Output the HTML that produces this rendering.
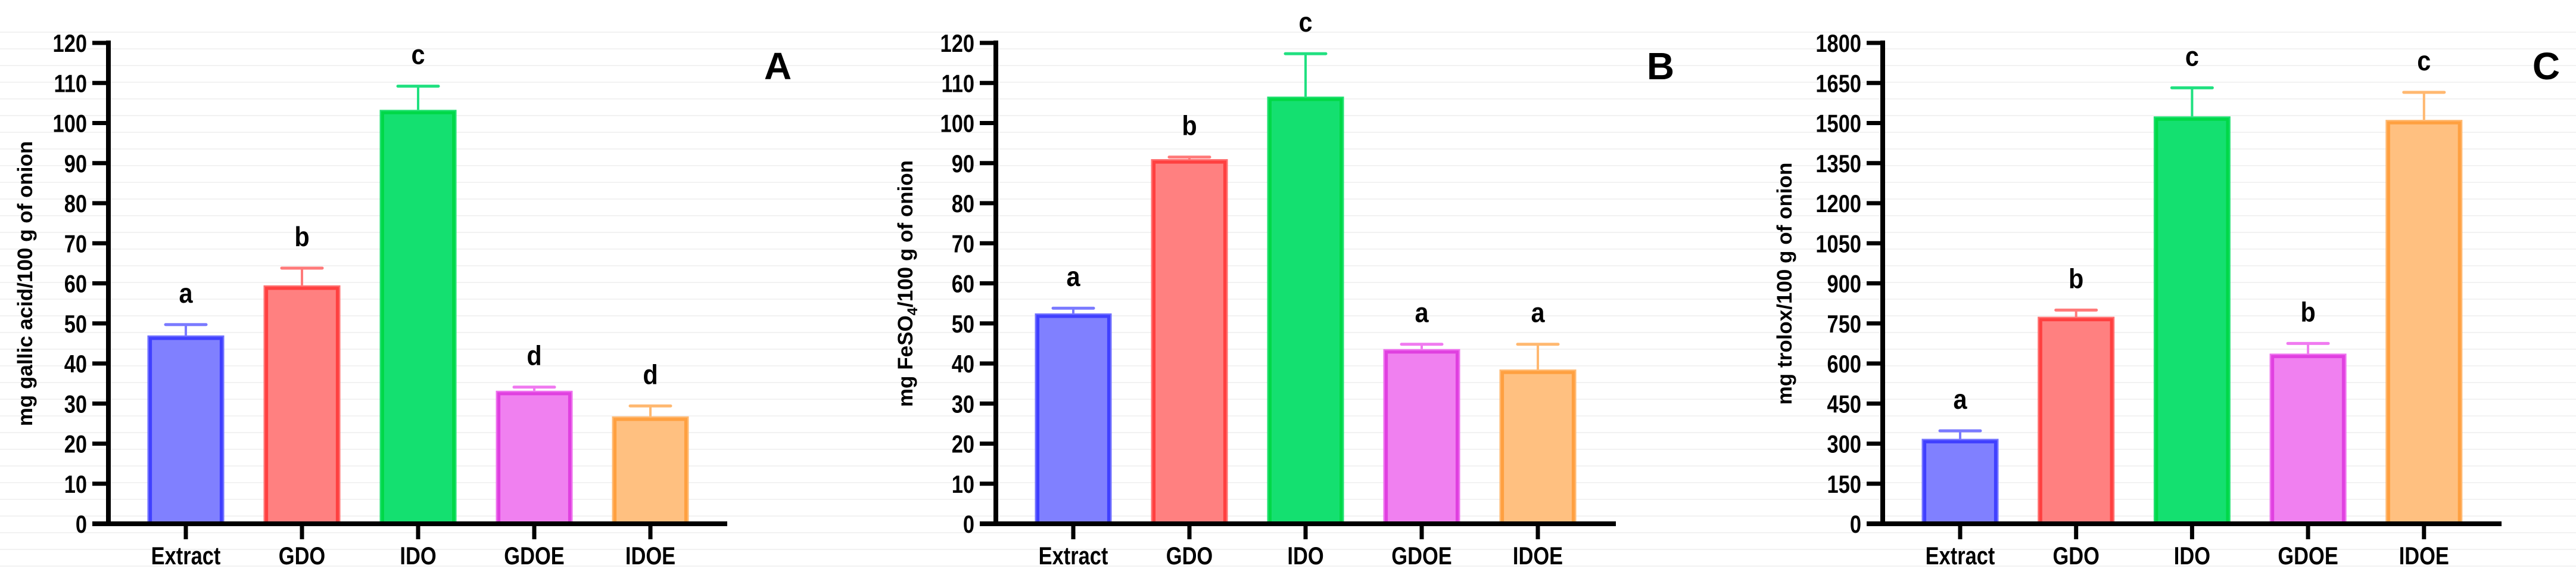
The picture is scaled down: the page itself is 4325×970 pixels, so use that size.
<!DOCTYPE html>
<html><head><meta charset="utf-8">
<style>
html,body{margin:0;padding:0;background:#fff;}
svg{display:block;}
text{font-family:"Liberation Sans",sans-serif;font-weight:bold;fill:#000;}
</style></head>
<body>
<svg id="chart" width="4325" height="970" viewBox="0 0 4325 970" xmlns="http://www.w3.org/2000/svg">
<g id="grid"></g>
</svg>
<script>
const categories = ["Extract","GDO","IDO","GDOE","IDOE"];
const valuesA = [47, 59.5, 103.3, 33.2, 26.8];
const errorsA = [2.7, 4.3, 5.9, 0.9, 2.6];
const lettersA = ["a","b","c","d","d"];
const ticksA = [0,10,20,30,40,50,60,70,80,90,100,110,120];
const valuesB = [52.5, 91, 106.6, 43.6, 38.5];
const errorsB = [1.3, 0.5, 10.7, 1.2, 6.3];
const lettersB = ["a","b","c","a","a"];
const ticksB = [0,10,20,30,40,50,60,70,80,90,100,110,120];
const valuesC = [318, 775, 1525, 637, 1512];
const errorsC = [30, 25, 107, 38, 103];
const lettersC = ["a","b","c","b","c"];
const ticksC = [0,150,300,450,600,750,900,1050,1200,1350,1500,1650,1800];

const NS = "http://www.w3.org/2000/svg";
const svg = document.getElementById("chart");
const fills = ["#8080ff","#ff8080","#14e070","#f080f0","#ffc080"];
const outers = ["#7070ff","#ff7070","#20e070","#ee70ee","#ffb870"];
const borders = ["#4040ff","#ff4040","#00d848","#e040e0","#ffa040"];
const errCols = ["#7a7aff","#ff7a7a","#20e080","#f07af0","#ffb870"];

function el(tag, attrs, parent){
  const e = document.createElementNS(NS, tag);
  for (const k in attrs) e.setAttribute(k, attrs[k]);
  (parent||svg).appendChild(e);
  return e;
}
// faint gridlines
const grid = document.getElementById("grid");
for (let y = 54; y < 970; y += 28) {
  const l = el("line",{x1:0,x2:4325,y1:y,y2:y,stroke:"#ededed","stroke-width":1.5},grid);
  
  
}

function panel(cfg){
  const g = el("g",{});
  
  
  const y0 = 879, yTop = 72, ax = cfg.axisX;
  const maxV = cfg.ticks[cfg.ticks.length-1];
  const yS = v => y0 - (v / maxV) * (y0 - yTop);
  const xS = i => cfg.firstX + i * cfg.step;
  // bars
  cfg.values.forEach((v,i)=>{
    const cx = xS(i), w = 129, top = yS(v);
    const bg = el("g",{},g);
    
    
    el("rect",{x:cx-w/2,y:top,width:w,height:y0-top,fill:outers[i]},bg);
    el("rect",{x:cx-w/2+5,y:top+5,width:w-10,height:y0-top-5,fill:"none",stroke:borders[i],"stroke-width":5},bg);
    el("rect",{x:cx-w/2+8,y:top+8,width:w-16,height:y0-top-8,fill:fills[i]},bg);
    const et = yS(v + cfg.errors[i]);
    const eg = el("g",{},g);
    
    
    el("line",{x1:cx,x2:cx,y1:top,y2:et,stroke:errCols[i],"stroke-width":4},eg);
    el("line",{x1:cx-34,x2:cx+34,y1:et,y2:et,stroke:errCols[i],"stroke-width":5,"stroke-linecap":"round"},eg);
    const lt = el("text",{x:0,y:0,"font-size":46,"text-anchor":"middle",transform:`translate(${cx},${et-37}) scale(0.9,1)`},g);
    lt.textContent = cfg.letters[i];
    
    
    // x tick + label
    el("line",{x1:cx,x2:cx,y1:y0,y2:905,stroke:"#000","stroke-width":7},g);
    const xl = el("text",{x:0,y:0,"font-size":42,"text-anchor":"middle",transform:`translate(${cx},947) scale(0.82,1)`},g);
    xl.textContent = categories[i];
    
    
  });
  // y axis
  const ya = el("line",{x1:ax,x2:ax,y1:yTop-4,y2:y0+4,stroke:"#000","stroke-width":8},g);
  
  
  const xa = el("line",{x1:ax-27,x2:cfg.axisEnd,y1:y0,y2:y0,stroke:"#000","stroke-width":8},g);
  
  
  cfg.ticks.forEach(t=>{
    const y = yS(t);
    el("line",{x1:ax-27,x2:ax,y1:y,y2:y,stroke:"#000","stroke-width":7},g);
    const tl = el("text",{x:0,y:0,"font-size":42,"text-anchor":"end",transform:`translate(${ax-36},${y+15}) scale(0.82,1)`},g);
    tl.textContent = t;
    
    
  });
  // y title
  const yt = el("text",{x:0,y:0,"font-size":35,"text-anchor":"middle",transform:`translate(${cfg.titleX},${cfg.titleY}) rotate(-90)`},g);
  yt.innerHTML = cfg.title;
  
  
  const pl = el("text",{x:cfg.labelX,y:133,"font-size":64,"text-anchor":"middle"},g);
  pl.textContent = cfg.label;
  
  
}

panel({name:"panel-a",axisX:182,firstX:312,step:195,axisEnd:1221,ticks:ticksA,values:valuesA,errors:errorsA,letters:lettersA,
  title:"mg gallic acid/100 g of onion",titleX:54,titleY:476,label:"A",labelX:1306});
panel({name:"panel-b",axisX:1672,firstX:1802,step:195,axisEnd:2713,ticks:ticksB,values:valuesB,errors:errorsB,letters:lettersB,
  title:'mg FeSO<tspan font-size="24" dy="8">4</tspan><tspan dy="-8">/100 g of onion</tspan>',titleX:1532,titleY:476,label:"B",labelX:2788});
panel({name:"panel-c",axisX:3161,firstX:3291,step:194.7,axisEnd:4200,ticks:ticksC,values:valuesC,errors:errorsC,letters:lettersC,
  title:"mg trolox/100 g of onion",titleX:3008,titleY:476,label:"C",labelX:4275});
</script>
</body></html>
